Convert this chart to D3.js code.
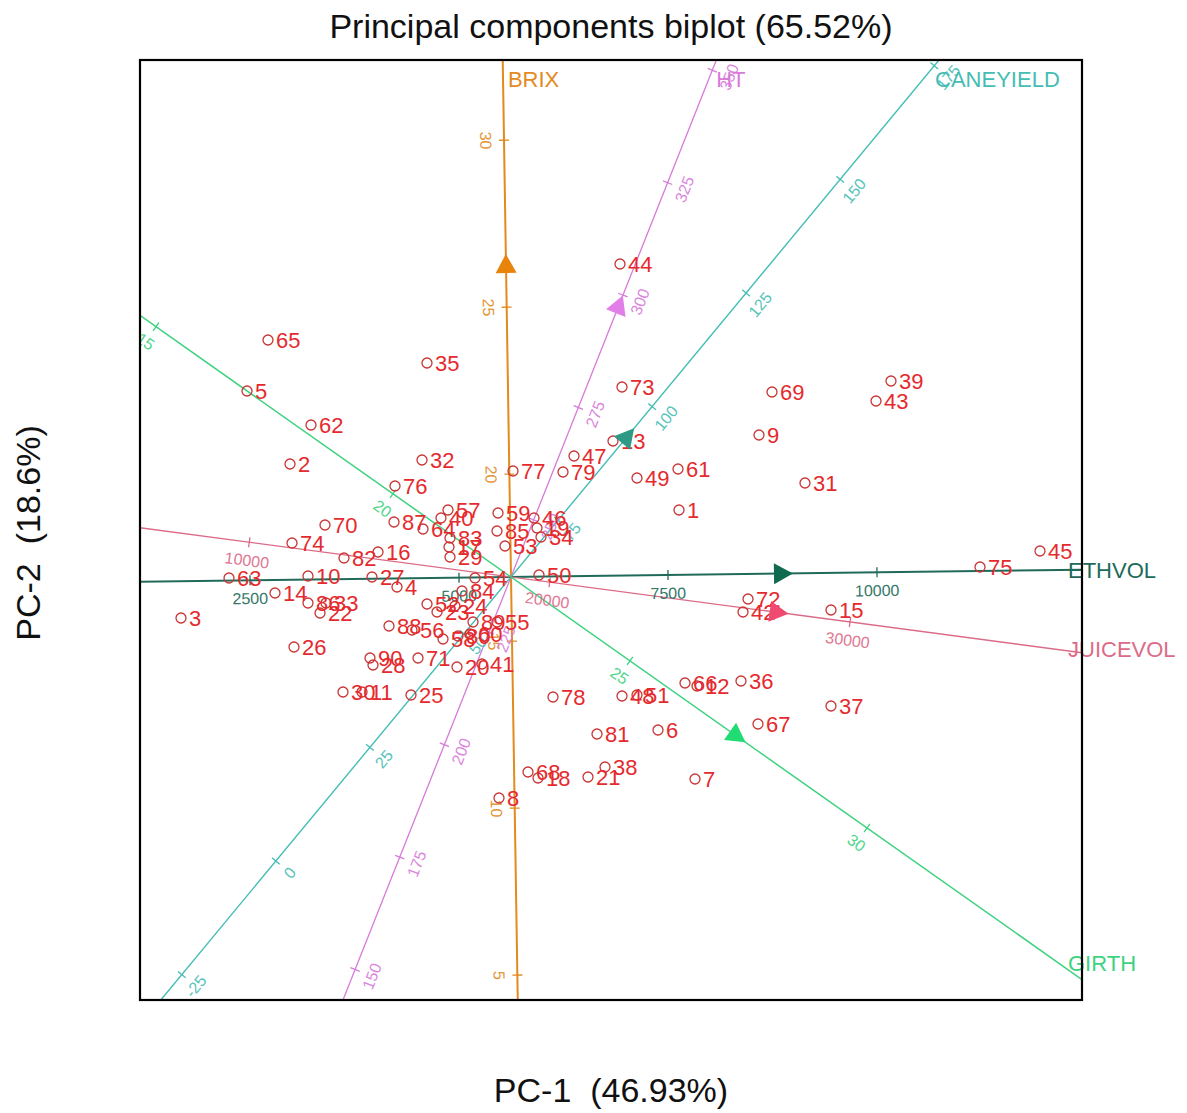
<!DOCTYPE html>
<html>
<head>
<meta charset="utf-8">
<script src="https://cdn.jsdelivr.net/npm/d3@7"></script>
<style>
  body { margin: 0; background: #fff; }
  text { font-family: "Liberation Sans", Arial, Helvetica, sans-serif; }
</style>
</head>
<body>
<svg id="chart" width="1187" height="1113"></svg>
<script>
// ---- Sample scores on the first two principal components ----
const pointIds = d3.range(1, 91);
const pc1Scores = [
  1.68, -2.21, -3.30, -1.14, -2.64, 1.47, 1.84, -0.12, 2.48, -2.03,
  -1.49, 1.86, 1.02, -2.36, 3.20, -1.33, -0.62, 0.27, 0.26, -0.54,
  0.77, -1.91, -0.74, -0.56, -1.00, -2.17, -1.39, -1.38, -0.61, -1.68,
  2.94, -0.89, -1.85, 0.30, -0.84, 2.30, 3.20, 0.94, 3.80, -0.70,
  -0.29, 2.32, 3.65, 1.09, 5.29, 0.23, 0.63, 1.11, 1.26, 0.28,
  1.26, -0.84, -0.06, -0.36, -0.14, -0.99, -0.63, -0.68, -0.13, -0.41,
  1.67, -2.00, -2.82, -0.88, -2.43, 1.74, 2.47, 0.17, 2.61, -1.86,
  -0.93, 2.37, 1.11, -2.19, 4.69, -1.16, 0.02, 0.42, 0.52, -0.53,
  0.86, -1.67, -0.61, -0.49, -0.14, -2.03, -1.17, -1.22, -0.38, -1.41
];
const pc2Scores = [
  0.67, 1.13, -0.41, -0.10, 1.86, -1.53, -2.02, -2.21, 1.42, 0.01,
  -1.15, -1.09, 1.36, -0.16, -0.33, 0.25, 0.30, -2.01, 0.49, -0.90,
  -2.00, -0.36, -0.35, -0.29, -1.18, -0.70, 0.00, -0.88, 0.20, -1.15,
  0.94, 1.17, -0.26, 0.40, 2.14, -1.04, -1.29, -1.90, 1.96, 0.59,
  -0.87, -0.35, 1.76, 3.13, 0.26, 0.59, 1.21, -1.19, 0.99, 0.02,
  -1.18, -0.27, 0.31, -0.01, -0.45, -0.53, 0.67, -0.62, 0.64, -0.57,
  1.08, 1.52, -0.01, 0.48, 2.37, -1.06, -1.47, -1.95, 1.85, 0.52,
  -0.81, -0.22, 1.90, 0.34, 0.10, 0.91, 1.06, -1.20, 1.05, -0.59,
  -1.57, 0.19, 0.39, -0.14, 0.46, -0.26, 0.55, -0.49, -0.45, -0.81
];

// ---- Calibrated variable axes ----
const varNames = ["BRIX", "HT", "CANEYIELD", "ETHVOL", "JUICEVOL", "GIRTH"];
const varDirX = [-0.016, 0.369, 0.6377, 0.9999, 0.9913, 0.8173];
const varDirY = [0.9999, 0.929, 0.7703, 0.0127, -0.1316, -0.5762];
const varMeans = [16.92, 237.3, 62.5, 5622, 18713, 22.49];
// plot units travelled along the axis per one unit of the variable
const varUnitLength = [0.334, 0.0484, 0.059, 0.000836, 0.000303, 0.58];
const varArrowLength = [3.12, 2.92, 1.82, 2.71, 2.69, 2.76];
const varTicks = [
  [5, 10, 15, 20, 25, 30],
  [150, 175, 200, 225, 250, 275, 300, 325, 350],
  [-25, 0, 25, 50, 75, 100, 125, 150, 175],
  [2500, 5000, 7500, 10000],
  [10000, 20000, 30000],
  [15, 20, 25, 30]
];

const xLimits = [-3.71, 5.71];
const yLimits = [-4.23, 5.17];

const titleText = "Principal components biplot (65.52%)";
const xTitleText = "PC-1  (46.93%)";
const yTitleText = "PC-2  (18.6%)";

// ---- Styling ----
const lineColor = {
  BRIX: "#e28a1e", HT: "#d77ad9", CANEYIELD: "#45bdb4",
  ETHVOL: "#206a5a", JUICEVOL: "#dc6b88", GIRTH: "#3dd27f"
};
const arrowColor = {
  BRIX: "#e8840c", HT: "#e27ee8", CANEYIELD: "#2d9a86",
  ETHVOL: "#0f6a50", JUICEVOL: "#ef4a70", GIRTH: "#20dc72"
};
const lineWidth = { BRIX: 2, HT: 1.3, CANEYIELD: 1.4, ETHVOL: 2, JUICEVOL: 1.4, GIRTH: 1.5 };

const plot = { left: 140, right: 1082, top: 60, bottom: 1000 };
const svg = d3.select("#chart");

const x = d3.scaleLinear().domain(xLimits).range([plot.left, plot.right]);
const y = d3.scaleLinear().domain(yLimits).range([plot.bottom, plot.top]);

svg.append("defs").append("clipPath").attr("id", "plotClip")
  .append("rect")
  .attr("x", plot.left).attr("y", plot.top)
  .attr("width", plot.right - plot.left).attr("height", plot.bottom - plot.top);

const gAxes = svg.append("g").attr("clip-path", "url(#plotClip)");
const gPoints = svg.append("g");
const gArrows = svg.append("g");
const gLabels = svg.append("g");

const axes = varNames.map((name, i) => {
  const dx = varDirX[i], dy = varDirY[i];
  const toPlot = v => {
    const t = (v - varMeans[i]) * varUnitLength[i];
    return [t * dx, t * dy];
  };
  const tx = [xLimits[0] / dx, xLimits[1] / dx].sort((a, b) => a - b);
  const ty = [yLimits[0] / dy, yLimits[1] / dy].sort((a, b) => a - b);
  const tMin = Math.max(tx[0], ty[0]);
  const tMax = Math.min(tx[1], ty[1]);
  // unit direction on screen
  let sx = x(dx) - x(0), sy = y(dy) - y(0);
  const len = Math.hypot(sx, sy);
  sx /= len; sy /= len;
  // perpendicular pointing to the lower side of the line
  let px = -sy, py = sx;
  if (py < 0 || (Math.abs(py) < 1e-6 && px < 0)) { px = -px; py = -py; }
  let angle = Math.atan2(-sy, sx) * 180 / Math.PI;
  if (angle > 90) angle -= 180;
  if (angle <= -90) angle += 180;
  return { name, i, dx, dy, toPlot, tMin, tMax, sx, sy, px, py, angle };
});

// axis lines
axes.forEach(a => {
  gAxes.append("line")
    .attr("x1", x(a.tMin * a.dx)).attr("y1", y(a.tMin * a.dy))
    .attr("x2", x(a.tMax * a.dx)).attr("y2", y(a.tMax * a.dy))
    .attr("stroke", lineColor[a.name])
    .attr("stroke-width", lineWidth[a.name]);
});

// tick marks and calibration labels
axes.forEach(a => {
  const ticks = varTicks[a.i].map(v => {
    const p = a.toPlot(v);
    return { v, X: x(p[0]), Y: y(p[1]) };
  }).filter(d => d.X >= plot.left && d.X <= plot.right && d.Y >= plot.top && d.Y <= plot.bottom);

  gAxes.selectAll(null).data(ticks).enter().append("line")
    .attr("x1", d => d.X - a.px * 5).attr("y1", d => d.Y - a.py * 5)
    .attr("x2", d => d.X + a.px * 5).attr("y2", d => d.Y + a.py * 5)
    .attr("stroke", lineColor[a.name])
    .attr("stroke-width", 1.3);

  gAxes.selectAll(null).data(ticks).enter().append("text")
    .attr("transform", d => `translate(${d.X + a.px * 18},${d.Y + a.py * 18}) rotate(${-a.angle})`)
    .attr("text-anchor", "middle")
    .attr("dy", "0.36em")
    .attr("font-size", 16)
    .attr("fill", lineColor[a.name])
    .attr("opacity", 0.9)
    .text(d => d.v);
});

// sample points
const points = pointIds.map((id, k) => ({ id, X: x(pc1Scores[k]), Y: y(pc2Scores[k]) }));
gPoints.selectAll("circle").data(points).enter().append("circle")
  .attr("cx", d => d.X).attr("cy", d => d.Y).attr("r", 5)
  .attr("fill", "none").attr("stroke", "#c93535").attr("stroke-width", 1.3);
gPoints.selectAll("text").data(points).enter().append("text")
  .attr("x", d => d.X + 8).attr("y", d => d.Y + 8)
  .attr("font-size", 22).attr("fill", "#e52a2e")
  .text(d => d.id);

// direction markers
axes.forEach(a => {
  const L = varArrowLength[a.i];
  const cx = x(L * a.dx), cy = y(L * a.dy);
  const tip = [cx + a.sx * 11, cy + a.sy * 11];
  const b1 = [cx - a.sx * 8 + a.px * 10.5, cy - a.sy * 8 + a.py * 10.5];
  const b2 = [cx - a.sx * 8 - a.px * 10.5, cy - a.sy * 8 - a.py * 10.5];
  gArrows.append("path")
    .attr("d", d3.line()([tip, b1, b2]) + "Z")
    .attr("fill", arrowColor[a.name]);
});

// variable names at the axis ends
axes.forEach(a => {
  const ex = x(a.tMax * a.dx), ey = y(a.tMax * a.dy);
  let lx, ly;
  if (ey <= plot.top + 1) {
    lx = ex + 5 - 14 * a.sx;
    ly = plot.top + 27;
  } else {
    lx = plot.right - 14;
    ly = ey - 28 * a.sy + 8;
  }
  gLabels.append("text")
    .attr("x", lx).attr("y", ly)
    .attr("font-size", 22)
    .attr("fill", lineColor[a.name])
    .text(a.name);
});

// frame
svg.append("rect")
  .attr("x", plot.left).attr("y", plot.top)
  .attr("width", plot.right - plot.left).attr("height", plot.bottom - plot.top)
  .attr("fill", "none").attr("stroke", "#000").attr("stroke-width", 2.2);

// titles
svg.append("text")
  .attr("x", (plot.left + plot.right) / 2).attr("y", 38)
  .attr("text-anchor", "middle").attr("font-size", 34).attr("fill", "#111")
  .text(titleText);
svg.append("text")
  .attr("x", (plot.left + plot.right) / 2).attr("y", 1102)
  .attr("text-anchor", "middle").attr("font-size", 34).attr("fill", "#111")
  .style("white-space", "pre")
  .text(xTitleText);
svg.append("text")
  .attr("transform", `translate(40,${(plot.top + plot.bottom) / 2 + 3}) rotate(-90)`)
  .attr("text-anchor", "middle").attr("font-size", 34).attr("fill", "#111")
  .style("white-space", "pre")
  .text(yTitleText);
</script>
</body>
</html>
